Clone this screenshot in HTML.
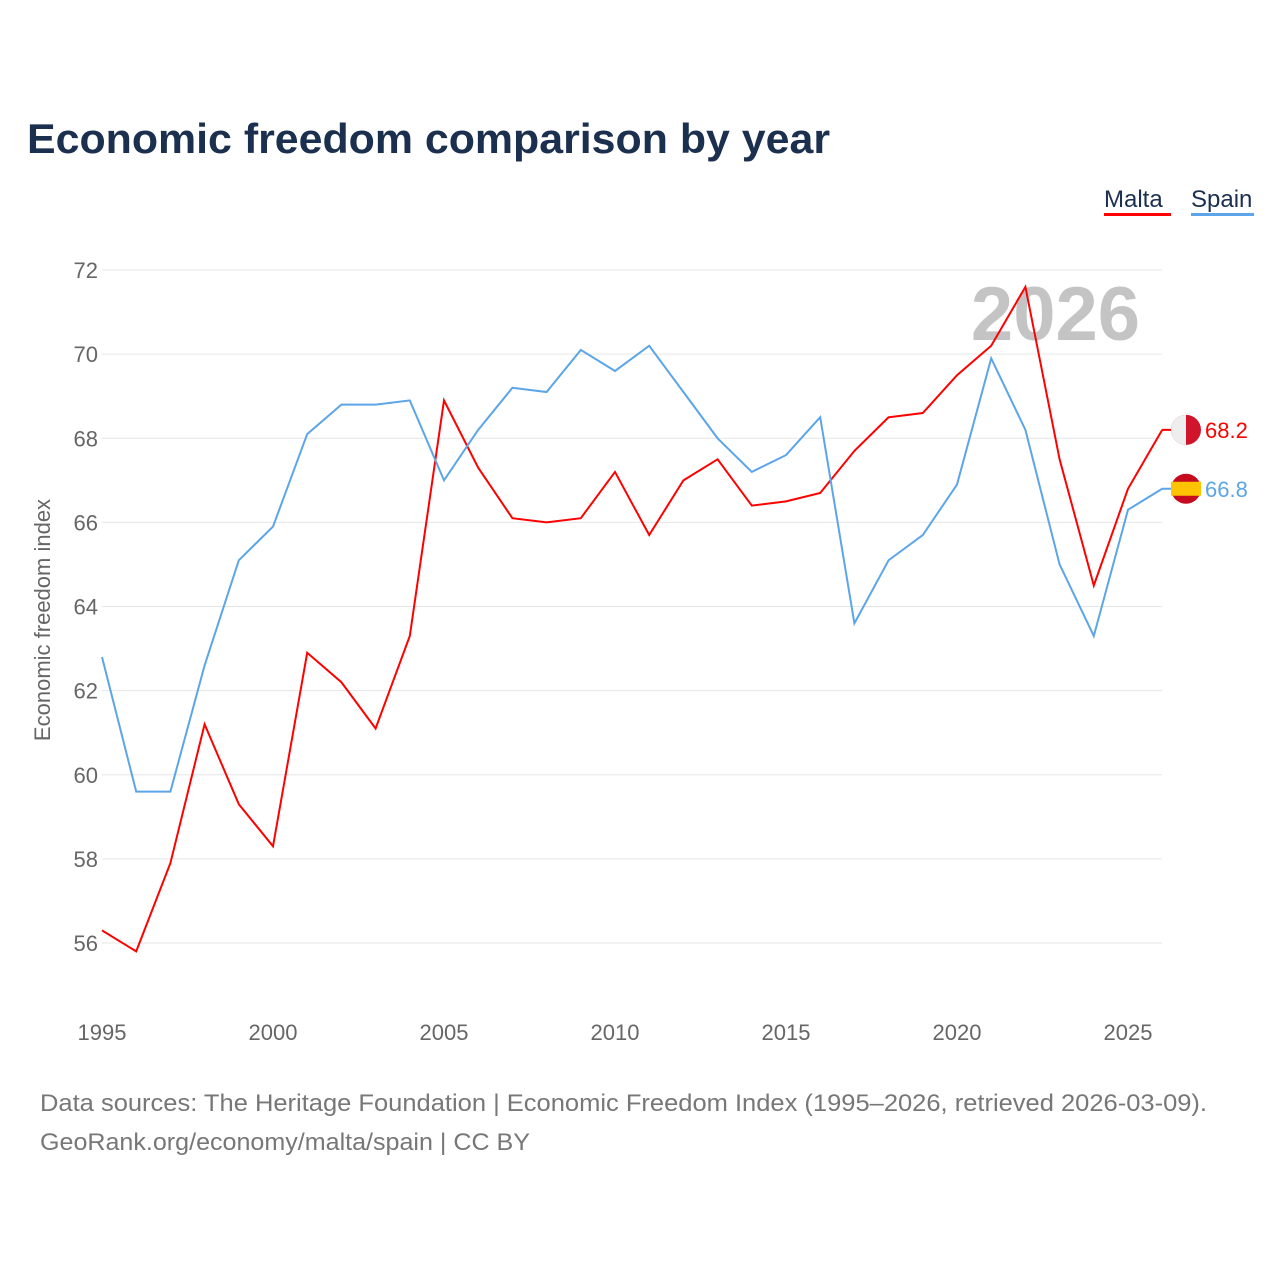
<!DOCTYPE html>
<html><head><meta charset="utf-8"><style>
body{margin:0;background:#fff;font-family:"Liberation Sans",sans-serif;}
svg text{font-family:"Liberation Sans",sans-serif;}
</style></head><body>
<svg id="c" width="1280" height="1280" xmlns="http://www.w3.org/2000/svg">
<text x="27" y="153" font-size="42" font-weight="bold" fill="#1b2f4e" textLength="803" lengthAdjust="spacingAndGlyphs">Economic freedom comparison by year</text>
<g>
<text x="1104" y="207" font-size="24" fill="#1b2f4e">Malta</text>
<rect x="1104" y="213" width="67" height="3" fill="#ff0000"/>
<text x="1191" y="207" font-size="24" fill="#1b2f4e">Spain</text>
<rect x="1191" y="213" width="63" height="3" fill="#5ba5e8"/>
</g>
<text x="1140" y="340" font-size="76" font-weight="bold" fill="#c4c4c4" text-anchor="end">2026</text>
<g id="grid"></g><g id="xt"></g>
<text transform="translate(50,620) rotate(-90)" font-size="22" fill="#666" text-anchor="middle">Economic freedom index</text>
<g id="lines"></g>
<text x="40" y="1111" font-size="24" fill="#777" textLength="1167" lengthAdjust="spacingAndGlyphs">Data sources: The Heritage Foundation | Economic Freedom Index (1995–2026, retrieved 2026-03-09).</text>
<text x="40" y="1150" font-size="24" fill="#777" textLength="490" lengthAdjust="spacingAndGlyphs">GeoRank.org/economy/malta/spain | CC BY</text>
</svg>
<script>
const years=[1995,1996,1997,1998,1999,2000,2001,2002,2003,2004,2005,2006,2007,2008,2009,2010,2011,2012,2013,2014,2015,2016,2017,2018,2019,2020,2021,2022,2023,2024,2025,2026];
const malta=[56.3,55.8,57.9,61.2,59.3,58.3,62.9,62.2,61.1,63.3,68.9,67.3,66.1,66.0,66.1,67.2,65.7,67.0,67.5,66.4,66.5,66.7,67.7,68.5,68.6,69.5,70.2,71.6,67.5,64.5,66.8,68.2];
const spain=[62.8,59.6,59.6,62.6,65.1,65.9,68.1,68.8,68.8,68.9,67.0,68.2,69.2,69.1,70.1,69.6,70.2,69.1,68.0,67.2,67.6,68.5,63.6,65.1,65.7,66.9,69.9,68.2,65.0,63.3,66.3,66.8];
const yTicks=[56,58,60,62,64,66,68,70,72];
const xTicks=[1995,2000,2005,2010,2015,2020,2025];
const NS="http://www.w3.org/2000/svg";
const X=y=>102+(y-1995)*34.2;
const Y=v=>943-(v-56)*42.06;
function mk(t,a,p){const e=document.createElementNS(NS,t);for(const k in a)e.setAttribute(k,a[k]);p.appendChild(e);return e;}
const grid=document.getElementById('grid');
yTicks.forEach(v=>{
const l=mk('line',{x1:102,x2:1162,y1:Y(v),y2:Y(v),stroke:'#e6e6e6','stroke-width':1},grid);


const t=mk('text',{x:98,y:Y(v)+8,'font-size':22,fill:'#666','text-anchor':'end'},grid);
t.textContent=v;


});
const xt=document.getElementById('xt');
xTicks.forEach(v=>{
const t=mk('text',{x:X(v),y:1040,'font-size':22,fill:'#666','text-anchor':'middle'},xt);
t.textContent=v;


});
const lines=document.getElementById('lines');
function series(d,col,name){
const p=mk('polyline',{points:d.map((v,i)=>X(years[i])+','+Y(v)).join(' '),fill:'none',stroke:col,'stroke-width':2},lines);


const last=d[d.length-1],cy=Y(last);
mk('line',{x1:1162,x2:1172,y1:cy,y2:cy,stroke:col,'stroke-width':2},lines);
const t=mk('text',{x:1205,y:cy+8,'font-size':22,fill:col},lines);
t.textContent=last.toFixed(1);


return cy;
}
const my=series(malta,'#ff0000','malta');
const sy=series(spain,'#5ba5e8','spain');
const fm=mk('g',{},lines);


mk('circle',{cx:1186,cy:my,r:15,fill:'#cf142b'},fm);
mk('path',{d:`M1186 ${my-15} A15 15 0 0 0 1186 ${my+15} Z`,fill:'#eee'},fm);
const fs=mk('g',{},lines);


mk('circle',{cx:1186,cy:sy,r:15,fill:'#c60b1e'},fs);
mk('rect',{x:1171,y:sy-7,width:30,height:14,fill:'#ffc400'},fs);
</script>
</body></html>
